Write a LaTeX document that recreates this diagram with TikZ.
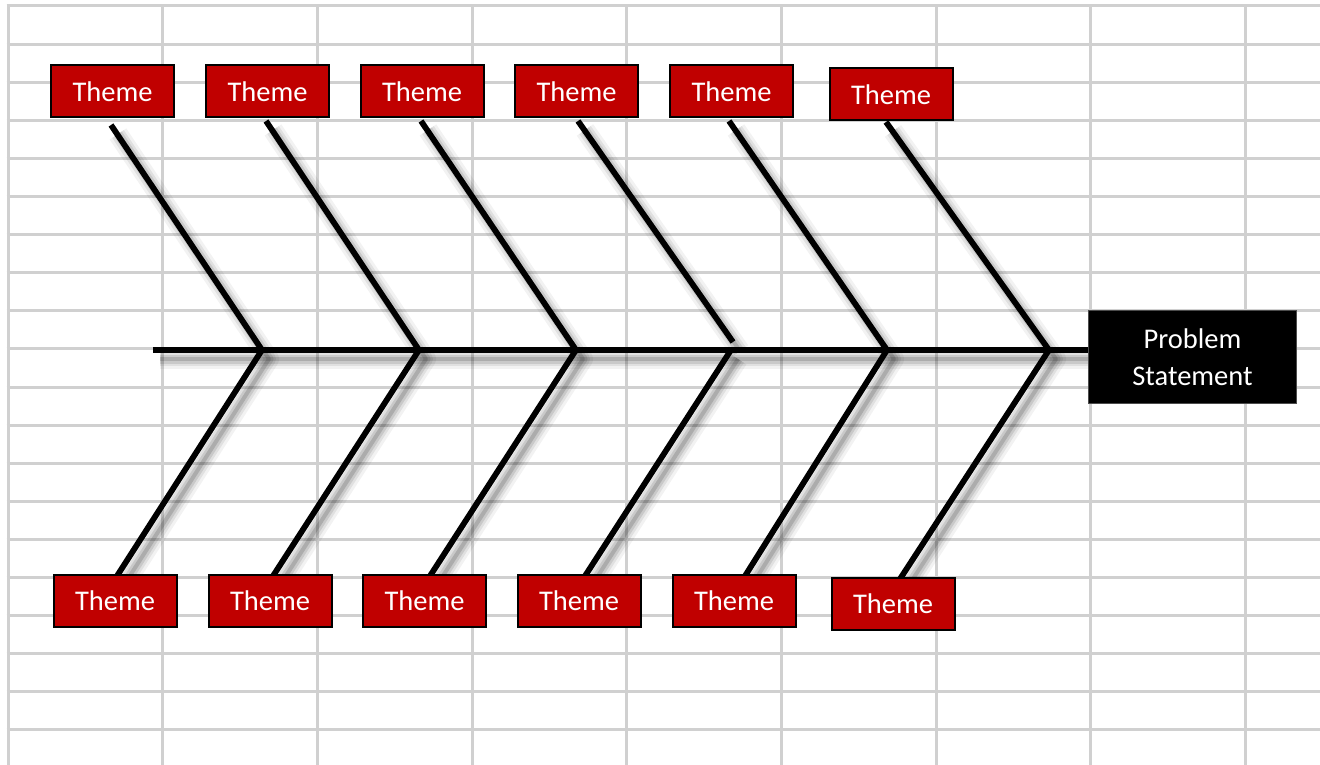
\documentclass[tikz,border=0pt]{standalone}
\usepackage{fontspec}
\setmainfont{Carlito}
\usetikzlibrary{calc}
\definecolor{gridgray}{HTML}{D0D0D0}
\definecolor{themered}{HTML}{C00000}
\newcommand{\shadowline}[3]{%
  \foreach \w/\o in {20/0.05,14/0.07,9/0.10,4/0.14}
    \draw[line width=\w pt,black,opacity=\o,line join=round]
      ($(#1)+(7,9)$) -- ($(#2)+(7,9)$) -- ($(#3)+(7,9)$);}
\begin{document}
\begin{tikzpicture}[x=1pt,y=-1pt,
  gridline/.style={draw=gridgray,line width=3pt},
  bone/.style={draw=black,line width=5.8pt,line join=miter},
  theme/.style={draw=black,line width=2pt,fill=themered,text=white,
    minimum width=123pt,minimum height=52pt,inner sep=0pt,
    font=\fontsize{28.5}{33}\selectfont},
  probbox/.style={draw=black!70,line width=1pt,fill=black,text=white,
    minimum width=208pt,minimum height=93pt,inner sep=0pt,align=center,
    font=\fontsize{28.5}{36.5}\selectfont}]
\useasboundingbox (0,0) rectangle (1320,765);
\fill[white] (0,0) rectangle (1320,765);
% grid
\foreach \i in {0,...,8} \draw[gridline] ({8+154.7*\i},6) -- ({8+154.7*\i},765);
\foreach \i in {0,...,19} \draw[gridline] (6.5,{6+38.1*\i}) -- (1320,{6+38.1*\i});
% coordinates
\coordinate (s0) at (153,350);
\coordinate (s1) at (1088,350);
\coordinate (j1) at (262,350);
\coordinate (j2) at (419,350);
\coordinate (j3) at (576,350);
\coordinate (j4) at (731,350);
\coordinate (e4) at (733,342);
\coordinate (j5) at (887,350);
\coordinate (j6) at (1049,350);
\coordinate (u1) at (111,125);
\coordinate (u2) at (266,121);
\coordinate (u3) at (421,121);
\coordinate (u4) at (578,121);
\coordinate (u5) at (729,121);
\coordinate (u6) at (886,122);
\coordinate (d1) at (117,576);
\coordinate (d2) at (273,576);
\coordinate (d3) at (430,576);
\coordinate (d4) at (585,576);
\coordinate (d5) at (745,576);
\coordinate (d6) at (900,579);
% shadows
\shadowline{s0}{s0}{s1}
\shadowline{u1}{j1}{d1}
\shadowline{u2}{j2}{d2}
\shadowline{u3}{j3}{d3}
\shadowline{u4}{e4}{e4}
\shadowline{j4}{j4}{d4}
\shadowline{u5}{j5}{d5}
\shadowline{u6}{j6}{d6}
% bones
\draw[bone] (s0) -- (s1);
\draw[bone] (u1) -- (j1) -- (d1);
\draw[bone] (u2) -- (j2) -- (d2);
\draw[bone] (u3) -- (j3) -- (d3);
\draw[bone] (u4) -- (e4);
\draw[bone] (j4) -- (d4);
\draw[bone] (u5) -- (j5) -- (d5);
\draw[bone] (u6) -- (j6) -- (d6);
% boxes
\node[theme] (t1) at (112.5,91.5) {Theme};
\node[theme] (t2) at (267.5,91.5) {Theme};
\node[theme] (t3) at (422,91.5) {Theme};
\node[theme] (t4) at (576.5,91.5) {Theme};
\node[theme] (t5) at (731.5,91.5) {Theme};
\node[theme] (t6) at (891,94.5) {Theme};
\node[theme] (b1) at (115,600.5) {Theme};
\node[theme] (b2) at (270,600.5) {Theme};
\node[theme] (b3) at (424.5,600.5) {Theme};
\node[theme] (b4) at (579,600.5) {Theme};
\node[theme] (b5) at (734,600.5) {Theme};
\node[theme] (b6) at (893,603.5) {Theme};
\node[probbox] (ps) at (1192.5,357) {Problem\\Statement};
\end{tikzpicture}
\end{document}
